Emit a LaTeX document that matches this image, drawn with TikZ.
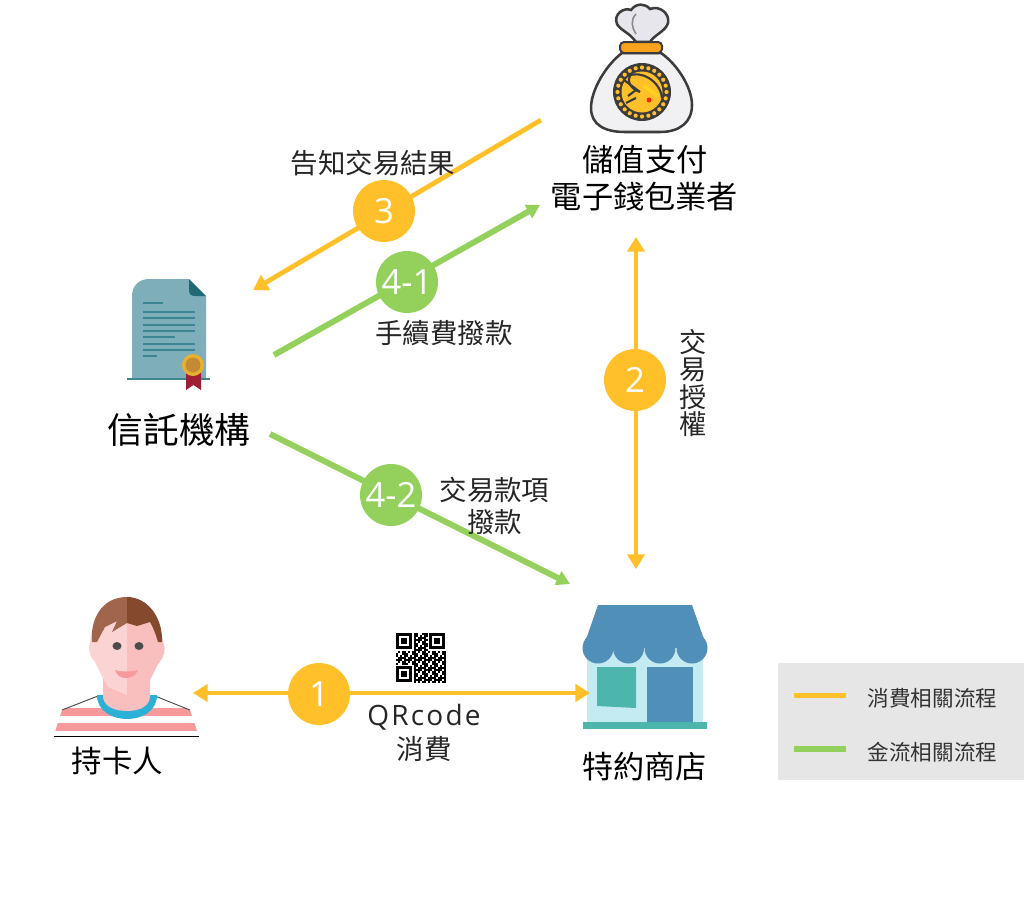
\documentclass[tikz,border=0pt]{standalone}
\usepackage{fontspec}
\setmainfont{Noto Sans CJK TC}
\newfontfamily\numfont{Open Sans}
\newfontfamily\widefont[LetterSpace=8]{Open Sans}
\usetikzlibrary{arrows.meta}
\definecolor{flowor}{HTML}{FFC02A}
\definecolor{flowgr}{HTML}{93D15C}
\definecolor{legendbg}{HTML}{E7E6E6}
\definecolor{roofblue}{HTML}{4F8FB8}
\definecolor{teal}{HTML}{4DB6AC}
\definecolor{paper}{HTML}{7FAEBB}
\definecolor{paperdark}{HTML}{1F6A75}
\definecolor{paperline}{HTML}{3D8592}
\definecolor{inkdark}{HTML}{3C3C3C}
\definecolor{skinlight}{HTML}{FCD3D3}
\definecolor{skinshade}{HTML}{F9BFBF}
\definecolor{hairlight}{HTML}{A0654B}
\definecolor{hairdark}{HTML}{85492E}
\definecolor{stripe}{HTML}{F79A9C}
\definecolor{collar}{HTML}{2BB0D6}
\definecolor{bagfill}{HTML}{F1F1F4}
\definecolor{knotfill}{HTML}{E6E6EC}
\definecolor{medalgold}{HTML}{E8B030}
\definecolor{medalcore}{HTML}{C48A35}
\definecolor{ribbon}{HTML}{9E2036}
\definecolor{collarband}{HTML}{F9A21B}
\definecolor{wallglass}{HTML}{C5EBF2}
\newcommand{\fsz}[1]{\fontsize{#1}{#1}\selectfont}
\tikzset{
  flow/.style={line width=3.6pt,-{Triangle[length=11pt,width=13pt]}},
  flowwide/.style={line width=4.4pt,-{Triangle[length=10pt,width=11pt]}},
  flowtwo/.style={line width=3.6pt,{Triangle[length=11pt,width=13pt]}-{Triangle[length=11pt,width=13pt]}},
  badge/.style={circle,minimum size=46.5pt,inner sep=0pt,text=white,font=\numfont\fsz{26}},
  actor/.style={inner sep=0pt,text=black,font=\fsz{23.4}},
  note/.style={inner sep=0pt,text=black!85,font=\fsz{20.4}},
  legendtext/.style={inner sep=0pt,text=black!80,font=\fsz{16.2}},
}
\begin{document}
\begin{tikzpicture}[x=0.75pt,y=-0.75pt]
\useasboundingbox (0,0) rectangle (1024,897);

% legend panel
\fill[legendbg] (778,663) rectangle (1024,780);
\coordinate (lo1) at (794,695.5); \coordinate (lo2) at (846,695.5);
\coordinate (lg1) at (794,749);   \coordinate (lg2) at (846,749);
\draw[flowor,line width=3.8pt] (lo1) -- (lo2);
\draw[flowgr,line width=3.8pt] (lg1) -- (lg2);
\node[legendtext] (legendo) at (932.5,698) {消費相關流程};
\node[legendtext] (legendg) at (932.5,752) {金流相關流程};

% money bag
\fill[knotfill,draw=inkdark,line width=1.9pt]
  (636,42) .. controls (630,33) and (620,30) .. (617,24)
  .. controls (613,14) and (624,7) .. (631,10)
  .. controls (636,3) and (645,3) .. (650,9)
  .. controls (660,5) and (670,14) .. (668,23)
  .. controls (666,31) and (654,35) .. (650,42) -- cycle;
\draw[inkdark!60,line width=1.2pt] (636,14) .. controls (630,20) and (632,28) .. (636,34);
\fill[bagfill,draw=inkdark,line width=1.9pt]
  (622,53) .. controls (606,65) and (591,90) .. (591,108)
  .. controls (591,125) and (605,132) .. (625,132) -- (660,132)
  .. controls (680,132) and (692,122) .. (692,105)
  .. controls (692,88) and (678,65) .. (661,53) -- cycle;
\fill[collarband,draw=inkdark,line width=1.5pt,rounded corners=3pt] (620,42) rectangle (662,53);
\fill[inkdark] (642,92) circle (29);
\foreach \a in {0,15,...,345}
  \fill[flowor] (642,92) ++(\a:24.5) circle (2.1);
\fill[flowor] (642,92) circle (20.5);
\draw[inkdark,line width=1.6pt] (628,76) .. controls (640,70) and (660,80) .. (662,98);
\draw[inkdark,line width=1.6pt] (624,80) -- (640,92) (628,96) -- (636,90) (626,103) -- (636,98)
  (630,76) .. controls (626,84) and (634,90) .. (640,92);
\draw[flowor!70!yellow,line width=3pt] (644,86) -- (658,96);
\fill[red!75!orange] (649,100) circle (2.5);

% trust deed
\fill[paper] (149,279) -- (189,279) -- (206,296) -- (206,378) -- (132,378) -- (132,296)
  .. controls (132,286) and (139,279) .. (149,279) -- cycle;
\fill[paperdark] (189,279) -- (206,296) -- (195,296) .. controls (191,296) and (189,294) .. (189,290) -- cycle;
\foreach \yy/\xa in {303/163,312/195,318/195,325/195,331/195,337/175,344/195,350/195,356/157}
  \draw[paperline,line width=1pt] (143,\yy) -- (\xa,\yy);
\draw[paperline,line width=1.3pt] (127,379) -- (210,379);
\fill[ribbon] (186,372) -- (201,372) -- (201,390) -- (193.5,385) -- (186,390) -- cycle;
\fill[medalgold] (193,365) circle (11);
\fill[medalcore] (193,365) circle (7.5);

% card holder
\begin{scope}
  \clip (53.5,736.5) -- (62,710) -- (98,696) -- (155,696) -- (190,710) -- (199,736.5) -- cycle;
  \fill[white] (50,690) rectangle (205,740);
  \fill[stripe] (50,708) rectangle (205,715.5);
  \fill[stripe] (50,723) rectangle (205,731);
\end{scope}
\draw[black,line width=0.9pt] (53.5,736.5) -- (199,736.5);
\draw[black!70,line width=0.7pt] (62,710) -- (98,696) (155,696) -- (190,710);
\fill[collar] (97,695) .. controls (97,711) and (112,719) .. (127,719)
  .. controls (142,719) and (157,711) .. (157,695) -- cycle;
\fill[skinshade] (103,670) -- (150,670) -- (150,696)
  .. controls (150,706) and (140,711) .. (127,711)
  .. controls (114,711) and (103,706) .. (103,696) -- cycle;
\fill[skinlight] (127,610) .. controls (105,610) and (92,625) .. (90,642)
  .. controls (88,648) and (89,656) .. (95,662) -- (103,678) -- (108,687) -- (127,695) -- cycle;
\fill[skinshade] (127,610) .. controls (148,610) and (160,625) .. (163,642)
  .. controls (166,648) and (165,656) .. (158,664) -- (150,680) -- (140,692) -- (127,695) -- cycle;
\fill[hairlight] (92,642) .. controls (90,622) and (100,597) .. (127,597) -- (127,623)
  -- (112,632) -- (117,621) -- (105,627) -- (97,642) -- cycle;
\fill[hairdark] (127,597) .. controls (148,597) and (163,618) .. (162,642)
  -- (158,642) .. controls (155,632) and (153,627) .. (150,622) -- (137,626) -- (127,623) -- cycle;
\fill[black!70] (117,646) ellipse (4.5 and 4) (139,646) ellipse (4.5 and 4);
\fill[stripe] (115,670) .. controls (122,672) and (131,672) .. (138,670)
  .. controls (136,676) and (130,678) .. (126,678) .. controls (121,678) and (117,676) .. (115,670) -- cycle;

% merchant shop
\fill[wallglass] (587,650) rectangle (703,722);
\fill[roofblue] (598,605) -- (692,605) -- (707,648) -- (583,648) -- cycle;
\foreach \cx in {598,628.5,660,692}
  \fill[roofblue] (\cx,648) circle (15.5);
\fill[teal] (597,667) -- (636,667) -- (636,708) -- (597,706) -- cycle;
\fill[roofblue] (647,667) rectangle (693,722);
\fill[teal] (583,722) rectangle (707,729);

% QR code
\foreach \i in {0,...,24}
  \foreach \j in {0,...,24}{
    \pgfmathtruncatemacro{\keep}{mod(\i*\i*3+\j*\j*5+\i*\j*7+\i+2*\j,5)<3 ? 1 : 0}
    \pgfmathtruncatemacro{\finder}{((\i<9 && \j<9) || (\i>15 && \j<9) || (\i<9 && \j>15)) ? 1 : 0}
    \ifnum\finder=0 \ifnum\keep=1
      \fill[black] (396+2*\i,633+2*\j) rectangle +(2,2);
    \fi\fi
  }
\foreach \fx/\fy in {396/633,429/633,396/666}{
  \draw[black,line width=1.9pt] (\fx+1.25,\fy+1.25) rectangle +(13.5,13.5);
  \fill[black] (\fx+5,\fy+5) rectangle +(6,6);
}

% connector end points
\coordinate (a3s) at (541,120);   \coordinate (a3e) at (253,290);
\coordinate (a41s) at (274,355);  \coordinate (a41e) at (540,205);
\coordinate (a42s) at (270,434);  \coordinate (a42e) at (570,584);
\coordinate (a2s) at (636,237);   \coordinate (a2e) at (636,569);
\coordinate (a1s) at (193,693);   \coordinate (a1e) at (590,693);

\draw[flow,flowor] (a3s) -- (a3e);
\draw[flowwide,flowgr] (a41s) -- (a41e);
\draw[flowwide,flowgr] (a42s) -- (a42e);
\draw[flowtwo,flowor] (a2s) -- (a2e);
\draw[flowtwo,flowor] (a1s) -- (a1e);

% step badges
\node[badge,fill=flowor] (s3) at (384,211) {3};
\node[badge,fill=flowgr] (s41) at (407,282) {4-1};
\node[badge,fill=flowgr] (s42) at (391,495) {4-2};
\node[badge,fill=flowor] (s2) at (635,380) {2};
\node[badge,fill=flowor] (s1) at (319,694) {1};

% party names
\node[actor] (wallet1) at (645,160) {儲值支付};
\node[actor] (wallet2) at (644.5,197) {電子錢包業者};
\node[actor,font=\fsz{26.8}] (trust) at (179,430) {信託機構};
\node[actor] (shop) at (644.5,767) {特約商店};
\node[actor,font=\fsz{22.8}] (holder) at (117.5,761) {持卡人};

% step captions
\node[note,font=\fsz{20.6}] (n3) at (373,163) {告知交易結果};
\node[note,font=\fsz{20.6}] (n41) at (444,333) {手續費撥款};
\node[note,font=\fsz{20.6}] (n42a) at (494.5,490) {交易款項};
\node[note,font=\fsz{20.6}] (n42b) at (494.5,522) {撥款};
\node[note,align=center] (n2) at (693,383) {交\\[-0.1pt]易\\[-0.1pt]授\\[-0.1pt]權};
\node[note,font=\widefont\fsz{21}] (n1a) at (424,717) {QRcode};
\node[note,font=\fsz{20.6}] (n1b) at (424,749) {消費};
\end{tikzpicture}
\end{document}
